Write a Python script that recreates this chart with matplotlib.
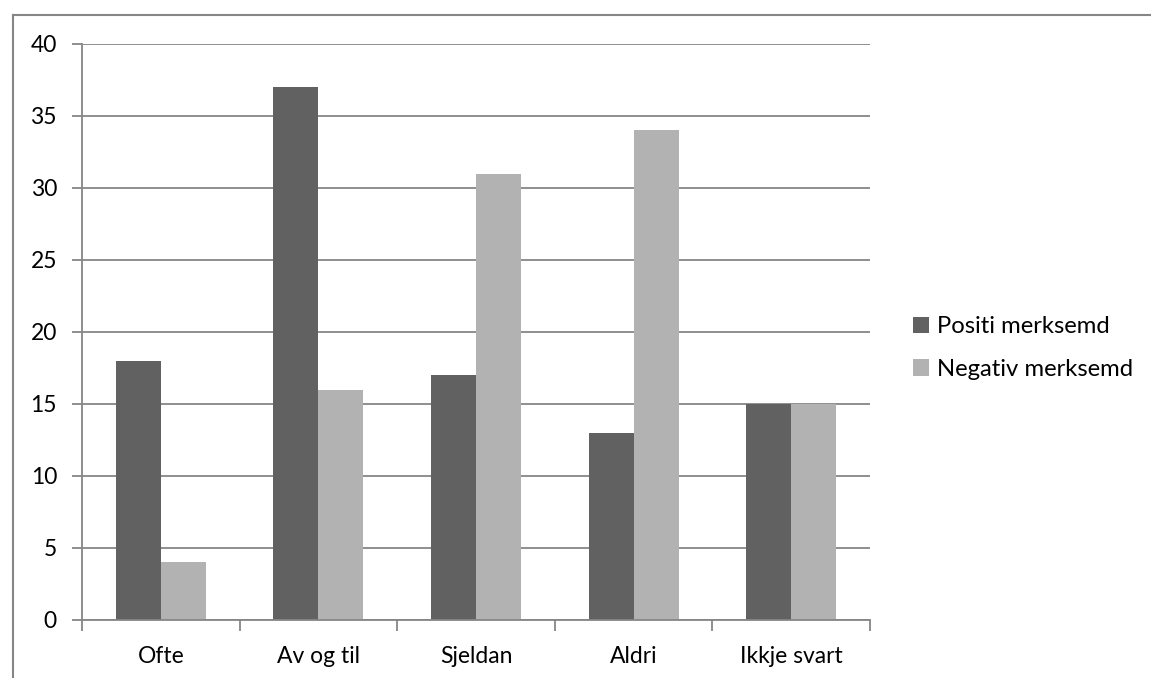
import numpy as np
import matplotlib.pyplot as plt
from matplotlib.lines import Line2D

categories = ["Ofte", "Av og til", "Sjeldan", "Aldri", "Ikkje svart"]
positiv = [18, 37, 17, 13, 15]
negativ = [4, 16, 31, 34, 15]
series_names = ["Positi merksemd", "Negativ merksemd"]

dark = "#616161"
light = "#b2b2b2"
grey = "#868686"

plt.rcParams["font.family"] = ["Lato", "DejaVu Sans"]

fig = plt.figure(figsize=(11.51, 6.78), dpi=100)
ax = fig.add_axes([82 / 1151, 1 - 620 / 678, 788 / 1151, 576 / 678])

x = np.arange(len(categories))
w = 1 / 3.5
ax.bar(x - w / 2, positiv, w, color=dark, label=series_names[0])
ax.bar(x + w / 2, negativ, w, color=light, label=series_names[1])

ax.set_xlim(-0.5, len(categories) - 0.5)
ax.set_ylim(0, 40)
ax.set_yticks(range(0, 41, 5))
ax.yaxis.grid(True, color=grey, linewidth=1.3)
ax.set_axisbelow(True)

ax.set_xticks(x)
ax.set_xticklabels(categories)
ax.set_xticks(np.arange(-0.5, len(categories)), minor=True)
ax.tick_params(axis="x", which="major", length=0, labelsize=16.5, pad=19)
ax.tick_params(axis="x", which="minor", length=8, width=1.3, color=grey, direction="out")
ax.tick_params(axis="y", length=7, width=1.3, color=grey, labelsize=16.5, pad=11)

for side in ["top", "right"]:
    ax.spines[side].set_visible(False)
for side in ["left", "bottom"]:
    ax.spines[side].set_color(grey)
    ax.spines[side].set_linewidth(1.3)

ax.legend(loc="center left", bbox_to_anchor=(1.027, 0.472), frameon=False,
          fontsize=17.2, handlelength=0.7, handleheight=0.7, handletextpad=0.3,
          labelspacing=0.9)

# chart area frame (top and left edge only)
top = 1 - 15 / 678
left = 13 / 1151
fig.add_artist(Line2D([left, 1], [top, top], color=grey, linewidth=1.5, transform=fig.transFigure))
fig.add_artist(Line2D([left, left], [0, top], color=grey, linewidth=1.5, transform=fig.transFigure))

fig.savefig("out.png", dpi=100)
